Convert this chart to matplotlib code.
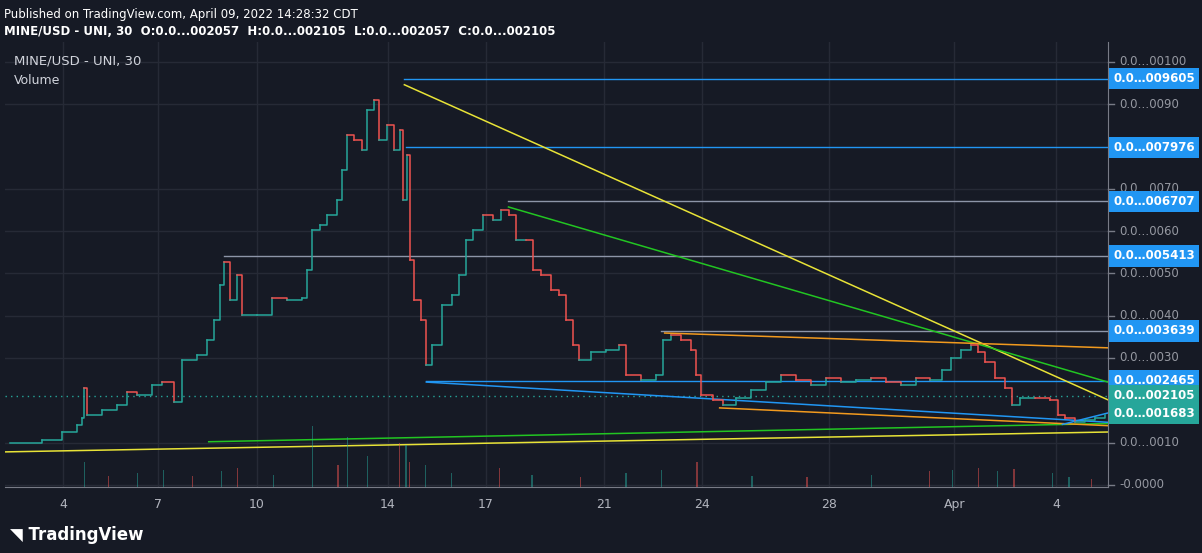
import numpy as np
import matplotlib.pyplot as plt

# days since Mar 1 (float) and closing price
days = [1.36, 2.35, 2.97, 3.43, 3.59, 3.65, 3.74, 4.20, 4.67, 4.98, 5.28, 5.75, 6.06, 6.43, 6.67,
        7.14, 7.44, 7.66, 7.85, 7.97, 8.15, 8.37, 8.52, 8.99, 9.45, 9.91, 10.38, 10.53, 10.69, 10.93,
        11.15, 11.46, 11.61, 11.77, 11.98, 12.23, 12.38, 12.60, 12.78, 13.00, 13.22, 13.40, 13.52,
        13.62, 13.71, 13.86, 14.08, 14.23, 14.39, 14.70, 15.01, 15.25, 15.47, 15.68, 15.99, 16.30,
        16.55, 16.80, 17.01, 17.32, 17.54, 17.78, 18.09, 18.34, 18.56, 18.77, 18.96, 19.33, 19.79,
        20.19, 20.41, 20.87, 21.33, 21.55, 21.80, 22.10, 22.41, 22.57, 22.72, 23.09, 23.40, 23.80,
        24.27, 24.73, 25.19, 25.65, 26.12, 26.58, 27.04, 27.51, 27.97, 28.43, 28.90, 29.36, 29.82,
        30.19, 30.44, 30.75, 31.06, 31.30, 31.52, 31.83, 32.14, 32.35, 32.60, 33.06, 33.53, 33.77,
        33.99, 34.30, 34.61, 34.92, 35.22]
close = [0.00099, 0.00106, 0.00125, 0.00142, 0.00158, 0.00229, 0.00165, 0.00177, 0.00189, 0.00220,
         0.00213, 0.00236, 0.00243, 0.00196, 0.00296, 0.00307, 0.00343, 0.00390, 0.00473, 0.00527,
         0.00437, 0.00496, 0.00402, 0.00402, 0.00442, 0.00437, 0.00442, 0.00508, 0.00603, 0.00615,
         0.00638, 0.00674, 0.00745, 0.00827, 0.00816, 0.00792, 0.00887, 0.00910, 0.00816, 0.00851,
         0.00792, 0.00839, 0.00674, 0.00780, 0.00532, 0.00437, 0.00390, 0.00284, 0.00331, 0.00426,
         0.00449, 0.00496, 0.00579, 0.00603, 0.00638, 0.00626, 0.00650, 0.00638, 0.00579, 0.00579,
         0.00508, 0.00496, 0.00461, 0.00449, 0.00390, 0.00331, 0.00296, 0.00314, 0.00319, 0.00331,
         0.00260, 0.00248, 0.00260, 0.00343, 0.00355, 0.00343, 0.00319, 0.00260, 0.00213, 0.00201,
         0.00189, 0.00206, 0.00225, 0.00243, 0.00260, 0.00248, 0.00236, 0.00253, 0.00243, 0.00248,
         0.00253, 0.00243, 0.00236, 0.00253, 0.00248, 0.00272, 0.00300, 0.00319, 0.00331, 0.00314,
         0.00291, 0.00253, 0.00229, 0.00189, 0.00206, 0.00206, 0.00201, 0.00165, 0.00158, 0.00149,
         0.00154, 0.00158, 0.00165]

# volume spikes (day, size, up?)
vol_days = [3.65, 4.4, 5.3, 6.1, 7.0, 7.9, 8.4, 9.5, 10.7, 11.5, 11.8, 12.4, 13.4, 13.6, 13.7,
            14.2, 15.0, 16.5, 17.5, 19.0, 20.4, 21.5, 22.6, 24.3, 26.0, 28.0, 29.8, 30.5, 31.3,
            31.9, 32.4, 33.6, 34.1, 34.8]
vol_vals = [45, 20, 25, 30, 20, 28, 35, 22, 110, 40, 90, 55, 80, 75, 45, 40, 25, 35, 22, 18, 25,
            30, 45, 20, 18, 22, 28, 30, 35, 28, 32, 25, 18, 15]
vol_up = [1, 0, 1, 1, 0, 1, 0, 1, 1, 0, 1, 1, 0, 1, 0, 1, 1, 0, 1, 0, 1, 1, 0, 1, 0, 1, 0, 1, 0,
          1, 0, 1, 1, 0]

tick_pos = [3.0, 5.93, 8.99, 13.03, 16.06, 19.73, 22.75, 26.67, 30.56, 33.71]
tick_lab = ["4", "7", "10", "14", "17", "21", "24", "28", "Apr", "4"]
ytick_vals = [0.0100, 0.0090, 0.0070, 0.0060, 0.0050, 0.0040, 0.0030, 0.0010, 0.0]
ytick_lab = ["0.0…00100", "0.0…0090", "0.0…0070", "0.0…0060", "0.0…0050", "0.0…0040",
             "0.0…0030", "0.0…0010", "-0.0000"]

# horizontal levels: (price, start day, line color, label bg)
levels = [(0.009605, 13.55, "#2196f3", "#2196f3"), (0.007976, 13.6, "#2196f3", "#2196f3"),
          (0.006707, 16.77, "#8d95a8", "#2196f3"), (0.005413, 7.97, "#8d95a8", "#2196f3"),
          (0.003639, 21.49, "#8d95a8", "#2196f3"), (0.002465, 14.23, "#2196f3", "#2196f3")]
# trend lines: (d0, p0, d1, p1, color)
trends = [(13.55, 0.00946, 35.31, 0.00201, "#e8e337"),
          (1.2, 0.00078, 35.31, 0.00125, "#e8e337"),
          (7.5, 0.00102, 35.31, 0.00145, "#22c522"),
          (16.77, 0.00657, 35.31, 0.00243, "#22c522"),
          (21.6, 0.00359, 35.31, 0.00324, "#f29a1e"),
          (23.3, 0.00182, 35.31, 0.00140, "#f29a1e"),
          (14.23, 0.00243, 35.31, 0.00148, "#2196f3"),
          (33.9, 0.00143, 35.31, 0.00170, "#2196f3")]

bg = "#161a25"
fig = plt.figure(figsize=(12.02, 5.53), dpi=100)
fig.patch.set_facecolor(bg)
ax = fig.add_axes([5/1202, 1-487/553, 1103/1202, 445/553])
ax.set_facecolor(bg)
ax.set_xlim(1.2, 35.31)
ax.set_ylim(-0.00005, 0.01047)

for x in tick_pos:
    ax.axvline(x, color="#262a36", lw=1, zorder=0)
for v in ytick_vals:
    ax.axhline(v, color="#262a36", lw=1, zorder=0)

# volume on twin axis
vax = ax.twinx()
vax.set_ylim(0, 800)
vax.axis("off")
vax.bar(vol_days, vol_vals, width=0.04,
        color=["#26a69a80" if u else "#ef535080" for u in vol_up])

# price step line coloured by direction
for i in range(1, len(days)):
    c = "#26a69a" if close[i] >= close[i-1] else "#ef5350"
    ax.plot([days[i-1], days[i], days[i]], [close[i-1], close[i-1], close[i]], color=c, lw=1.1, zorder=3)

for p, d0, lc, lb in levels:
    ax.plot([d0, 35.31], [p, p], color=lc, lw=1, zorder=2)
for d0, p0, d1, p1, c in trends:
    ax.plot([d0, d1], [p0, p1], color=c, lw=1.1, zorder=2)
ax.axhline(0.002105, color="#26a69a", lw=1, ls=(0, (1, 3)), zorder=1)

ax.set_xticks(tick_pos)
ax.set_xticklabels(tick_lab, color="#b2b5be", fontsize=9)
ax.set_yticks([])
ax.tick_params(axis="x", length=0, pad=8)
for s in ax.spines.values():
    s.set_visible(False)
ax.spines["right"].set_visible(True)
ax.spines["right"].set_color("#787b86")
ax.spines["bottom"].set_visible(True)
ax.spines["bottom"].set_color("#787b86")

tr = ax.get_yaxis_transform()
for v, l in zip(ytick_vals, ytick_lab):
    ax.text(1.01, v, l, transform=tr, color="#9598a1", fontsize=8.5, va="center", ha="left")
    ax.plot([1.0, 1.005], [v, v], transform=tr, color="#787b86", lw=1, clip_on=False)
for p, d0, lc, lb in levels:
    ax.text(1.005, p, f"0.0…{p:.6f}"[0:0] + "0.0…00" + f"{p:.6f}"[4:], transform=tr, color="white",
            fontsize=8.5, fontweight="bold", va="center", ha="left",
            bbox=dict(boxstyle="square,pad=0.35", fc=lb, ec="none"))
for p in [0.002105, 0.001683]:
    ax.text(1.005, p, "0.0…00" + f"{p:.6f}"[4:], transform=tr, color="white",
            fontsize=8.5, fontweight="bold", va="center", ha="left",
            bbox=dict(boxstyle="square,pad=0.35", fc="#26a69a", ec="none"))

ax.text(0.008, 0.95, "MINE/USD - UNI, 30", transform=ax.transAxes, color="#d1d4dc", fontsize=9.5)
ax.text(0.008, 0.905, "Volume", transform=ax.transAxes, color="#d1d4dc", fontsize=9)

fig.text(0.003, 0.985, "Published on TradingView.com, April 09, 2022 14:28:32 CDT",
         color="white", fontsize=8.5, va="top")
fig.text(0.003, 0.955, "MINE/USD - UNI, 30  O:0.0...002057  H:0.0...002105  L:0.0...002057  C:0.0...002105",
         color="white", fontsize=8.5, va="top", fontweight="bold")
fig.text(0.008, 0.032, "\u25E5 TradingView", color="white", fontsize=12, fontweight="bold", va="center")

fig.savefig("out.png", facecolor=bg)
